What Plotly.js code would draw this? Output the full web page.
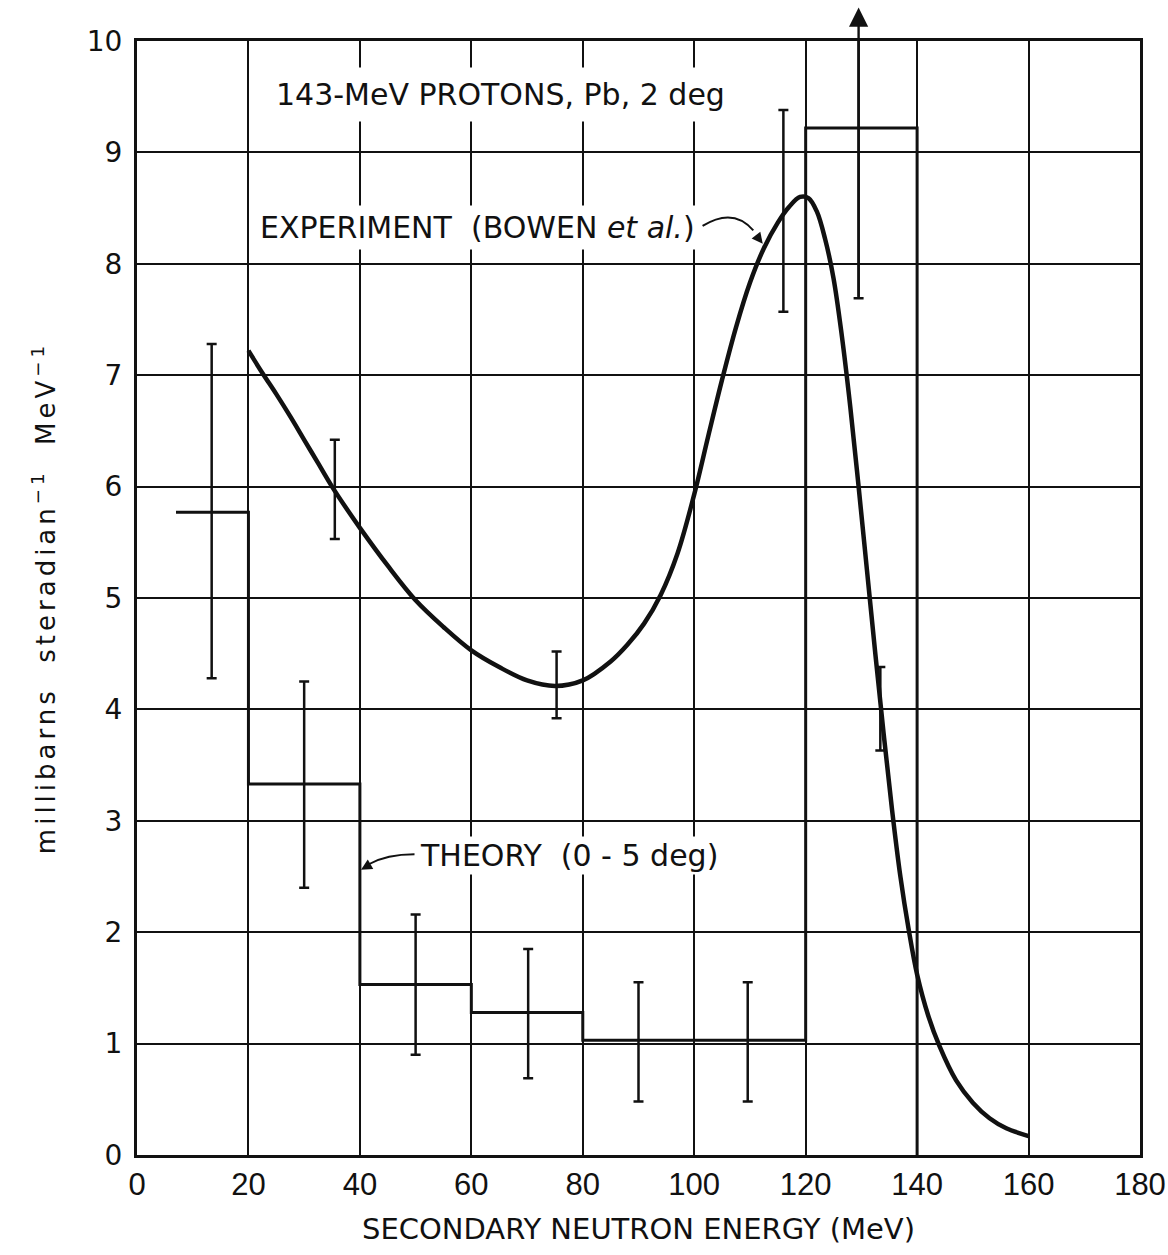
<!DOCTYPE html>
<html>
<head>
<meta charset="utf-8">
<script src="https://cdn.plot.ly/plotly-3.0.1.min.js"></script>
<style>
  html, body { margin: 0; padding: 0; background: #fff; }
  #chart { width: 1168px; height: 1255px; }
  /* hand-lettered axis label is widely spaced */
  #chart .ytitle { letter-spacing: 4px; }
</style>
</head>
<body>
<div id="chart"></div>
<script>
// Measured neutron spectrum (smooth curve), MeV vs mb sr^-1 MeV^-1
const expEnergy = [20, 22.5, 25, 27.5, 30, 32.5, 35, 37.5, 40, 45, 50, 55, 60, 65, 70, 75,
  80, 85, 88, 91, 94, 97, 100, 102.5, 105, 107.5, 110, 112.5, 115, 117, 119, 120.5, 122,
  123.5, 125, 126.5, 128, 129.5, 131, 132.5, 134, 135.5, 137, 138.5, 140, 142, 144, 147,
  150, 153, 156, 160];
const expValue = [7.22, 7.02, 6.83, 6.63, 6.42, 6.21, 6.0, 5.81, 5.63, 5.29, 4.98, 4.74,
  4.53, 4.38, 4.26, 4.21, 4.26, 4.43, 4.58, 4.77, 5.03, 5.40, 5.93, 6.45, 6.96, 7.43, 7.83,
  8.14, 8.37, 8.51, 8.60, 8.59, 8.47, 8.22, 7.87, 7.35, 6.72, 6.0, 5.25, 4.5, 3.78, 3.1,
  2.5, 2.02, 1.62, 1.25, 0.98, 0.67, 0.47, 0.33, 0.24, 0.17];

// Theory histogram (0-5 deg): bin edges and bin heights
const theoryEdges = [7, 20, 40, 60, 80, 120, 140];
const theoryValue = [5.77, 3.33, 1.53, 1.28, 1.03, 9.22];

// Data points shown as vertical error bars: energy, lower and upper limits
const barEnergy = [13.4, 30, 35.5, 50, 70.2, 75.3, 90, 109.6, 116, 129.5, 133.4];
const barLow    = [4.28, 2.40, 5.53, 0.90, 0.69, 3.92, 0.48, 0.48, 7.57, 7.69, 3.63];
const barHigh   = [7.28, 4.25, 6.42, 2.16, 1.85, 4.52, 1.55, 1.55, 9.38, 10.30, 4.38];
// the bar at 129.5 MeV runs off scale; its top is drawn as an arrow
const offScaleIndex = 9;

// Axis ticks
const xTicks = [0, 20, 40, 60, 80, 100, 120, 140, 160, 180];
const yTicks = [0, 1, 2, 3, 4, 5, 6, 7, 8, 9, 10];

const INK = '#111';
const LETTER = 'DejaVu Sans, Verdana, sans-serif';
const NARROW = 'Liberation Sans Narrow, Liberation Sans, Arial, sans-serif';

// step outline of the theory histogram, closed to zero at the last edge
const stepX = [], stepY = [];
theoryValue.forEach((v, i) => {
  stepX.push(theoryEdges[i], theoryEdges[i + 1]);
  stepY.push(v, v);
});
stepX.push(theoryEdges[theoryEdges.length - 1]);
stepY.push(0);

// asymmetric error bars; the off-scale one is cut off at the top of the frame
const barMid = barLow.map((lo, i) => (lo + barHigh[i]) / 2);
const barPlus = barHigh.map((hi, i) => hi - barMid[i]);
const barMinus = barLow.map((lo, i) => barMid[i] - lo);

// leader-line arrowheads (tip position and pointing angle, degrees clockwise from up)
const headX = [112.3, 40.2];
const headY = [8.18, 2.56];
const headAngle = [142, 240];

const traces = [
  {
    x: stepX, y: stepY, type: 'scatter', mode: 'lines',
    line: { color: INK, width: 3 }, hoverinfo: 'skip'
  },
  {
    x: expEnergy, y: expValue, type: 'scatter', mode: 'lines',
    line: { color: INK, width: 4.5, shape: 'spline', smoothing: 1 }, hoverinfo: 'skip'
  },
  {
    x: barEnergy, y: barMid, type: 'scatter', mode: 'markers',
    marker: { color: 'rgba(0,0,0,0)', size: 1 },
    error_y: {
      type: 'data', symmetric: false, array: barPlus, arrayminus: barMinus,
      color: INK, thickness: 2.5, width: 5
    },
    hoverinfo: 'skip'
  },
  {
    x: headX, y: headY, type: 'scatter', mode: 'markers',
    marker: { symbol: 'arrow-up', size: 11, color: INK, angle: headAngle, line: { width: 0 } },
    hoverinfo: 'skip'
  }
];

const labelFont = { family: LETTER, size: 30, color: INK };

const annotations = [
  {
    text: '143-MeV PROTONS, Pb, 2 deg', x: 65.3, y: 9.52, xref: 'x', yref: 'y',
    showarrow: false, font: labelFont, bgcolor: '#fff', borderpad: 9
  },
  {
    text: 'EXPERIMENT  (BOWEN <i>et al.</i>)', x: 61.1, y: 8.33, xref: 'x', yref: 'y',
    showarrow: false, font: labelFont, bgcolor: '#fff', borderpad: 4
  },
  {
    text: 'THEORY  (0 - 5 deg)', x: 77.5, y: 2.69, xref: 'x', yref: 'y',
    showarrow: false, font: labelFont, bgcolor: '#fff', borderpad: 1
  },
  // off-scale arrow rising from the 129.5 MeV point past the frame
  {
    text: '', x: barEnergy[offScaleIndex], y: barHigh[offScaleIndex], xref: 'x', yref: 'y',
    ax: barEnergy[offScaleIndex], ay: barLow[offScaleIndex], axref: 'x', ayref: 'y',
    showarrow: true, arrowhead: 2, arrowsize: 1.6, arrowwidth: 2.4, arrowcolor: INK
  }
];

const shapes = [
  // leader from the EXPERIMENT label to the curve
  {
    type: 'path', xref: 'x', yref: 'y',
    path: 'M 101.5,8.34 Q 107.0,8.51 110.6,8.30',
    line: { color: INK, width: 2 }
  },
  // leader from the THEORY label to the histogram
  {
    type: 'path', xref: 'x', yref: 'y',
    path: 'M 49.8,2.70 Q 44.8,2.70 41.6,2.61',
    line: { color: INK, width: 2 }
  }
];

const layout = {
  width: 1168, height: 1255,
  margin: { l: 137, r: 28, t: 41, b: 100 },
  paper_bgcolor: '#fff', plot_bgcolor: '#fff',
  showlegend: false,
  font: { family: LETTER, color: INK },
  xaxis: {
    range: [0, 180], tickvals: xTicks, ticktext: xTicks.map(String),
    showgrid: true, gridcolor: INK, gridwidth: 2, zeroline: false,
    showline: true, linecolor: INK, linewidth: 3, mirror: true, ticks: '',
    tickfont: { family: NARROW, size: 31, color: INK }, ticklabelstandoff: 0,
    title: {
      text: 'SECONDARY NEUTRON ENERGY (MeV)', standoff: 18,
      font: { family: LETTER, size: 29, color: INK }
    }
  },
  yaxis: {
    range: [0, 10], tickvals: yTicks, ticktext: yTicks.map(String),
    showgrid: true, gridcolor: INK, gridwidth: 2, zeroline: false,
    showline: true, linecolor: INK, linewidth: 3, mirror: true, ticks: '',
    tickfont: { family: LETTER, size: 28, color: INK }, ticklabelstandoff: 6,
    title: {
      text: 'millibarns\u00A0\u00A0steradian<sup>−1</sup>\u00A0\u00A0MeV<sup>−1</sup>', standoff: 24,
      font: { family: LETTER, size: 26, color: INK }
    }
  },
  annotations: annotations,
  shapes: shapes
};

Plotly.newPlot('chart', traces, layout, { displayModeBar: false, staticPlot: true });
</script>
</body>
</html>
